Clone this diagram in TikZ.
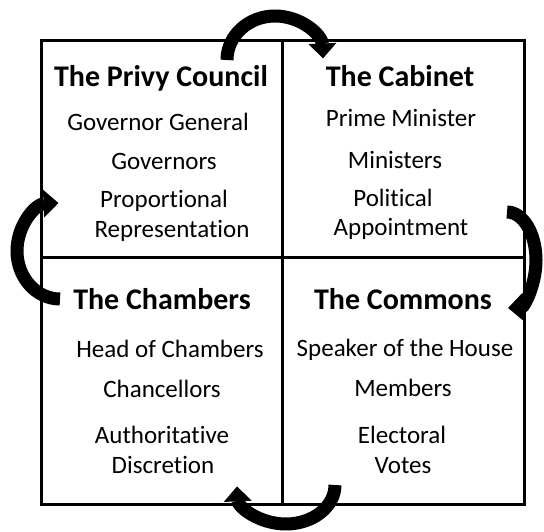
\documentclass[tikz,border=0pt]{standalone}
\usepackage{fontspec}
\setmainfont{Carlito}[Ligatures=NoCommon]
\usetikzlibrary{arrows.meta}
\begin{document}
\begin{tikzpicture}[x=1pt,y=1pt,
  heading/.style={anchor=base,font=\fontsize{30}{30}\selectfont\bfseries,inner sep=0pt},
  entry/.style={anchor=base,font=\fontsize{25}{25}\selectfont,inner sep=0pt},
  frame/.style={line width=3pt},
  flow/.style={line width=13pt,-{Triangle[length=15pt,width=27pt]}}]
\useasboundingbox (0,0) rectangle (544,531);
% outer frame and the two dividers
\draw[frame] (41,27) rectangle (524,490);
\draw[frame] (282,490) -- (282,27);
\draw[frame] (41,273) -- (524,273);
% top-left: The Privy Council
\node[heading] (pc)  at (161,444) {The Privy Council};
\node[entry]   (pc1) at (158,400) {Governor General};
\node[entry]   (pc2) at (164,361) {Governors};
\node[entry]   (pc3) at (164,323) {Proportional};
\node[entry]   (pc4) at (172,293) {Representation};
% top-right: The Cabinet
\node[heading] (cb)  at (400,444) {The Cabinet};
\node[entry]   (cb1) at (401,404) {Prime Minister};
\node[entry]   (cb2) at (395,362) {Ministers};
\node[entry]   (cb3) at (393,324) {Political};
\node[entry]   (cb4) at (401,295) {Appointment};
% bottom-left: The Chambers
\node[heading] (ch)  at (162,221) {The Chambers};
\node[entry]   (ch1) at (170,174) {Head of Chambers};
\node[entry]   (ch2) at (162,134) {Chancellors};
\node[entry]   (ch3) at (162,88)  {Authoritative};
\node[entry]   (ch4) at (163,58)  {Discretion};
% bottom-right: The Commons
\node[heading] (cm)  at (403,221) {The Commons};
\node[entry]   (cm1) at (405,175) {Speaker of the House};
\node[entry]   (cm2) at (403,135) {Members};
\node[entry]   (cm3) at (402,88)  {Electoral};
\node[entry]   (cm4) at (403,58)  {Votes};
% curved arrows carrying the cycle round the four quarters
\coordinate (topstart)   at (227,471);
\coordinate (rightstart) at (507,319);
\coordinate (botstart)   at (335,46);
\coordinate (leftstart)  at (60,232);
\draw[flow] (topstart) arc[start angle=180,end angle=2,x radius=48,y radius=44];
\draw[flow] (rightstart) arc[start angle=90,end angle=-88,x radius=29,y radius=48];
\draw[flow] (botstart) arc[start angle=0,end angle=-178,x radius=49,y radius=39];
\draw[flow] (leftstart) arc[start angle=270,end angle=92,x radius=43,y radius=48];
\end{tikzpicture}
\end{document}
